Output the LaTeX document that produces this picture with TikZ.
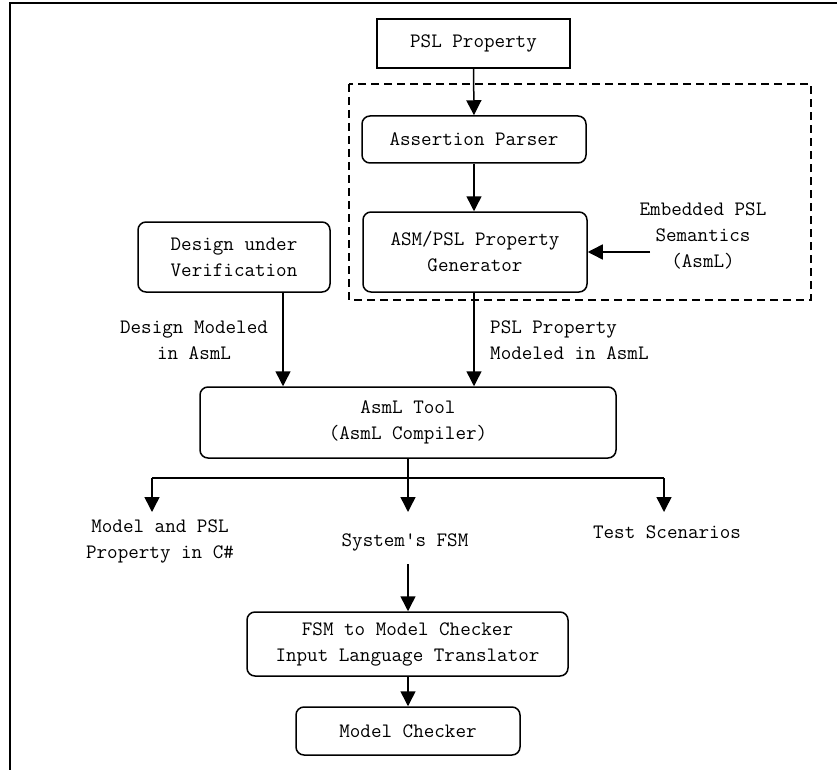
\documentclass[tikz,border=0pt]{standalone}
\usetikzlibrary{arrows.meta}
\begin{document}
\begin{tikzpicture}[x=1pt,y=-1pt,
  every node/.style={font=\ttfamily\fontsize{20.5}{26}\selectfont, align=center, inner sep=0pt},
  rbox/.style={draw, line width=1.5pt, rounded corners=8pt},
  sbox/.style={draw, line width=1.5pt},
  conn/.style={line width=1.5pt, -{Triangle[length=15pt,width=15pt]}},
  plain/.style={line width=1.5pt}]
\useasboundingbox (0,0) rectangle (837,770);
% frame (top and left lines)
\draw[line width=2pt] (10,770) -- (10,3.5) -- (837,3.5);
% dashed region
\draw[line width=1.5pt, dash pattern=on 8pt off 5pt] (349,84) rectangle (811,300);
% boxes
\node[sbox, minimum width=193pt, minimum height=49pt] (psl) at (473.5,43.5) {PSL Property};
\node[rbox, minimum width=224pt, minimum height=47pt] (parser) at (474,139.5) {Assertion Parser};
\node[rbox, minimum width=224pt, minimum height=80pt] (gen) at (475,252) {ASM/PSL Property\\Generator};
\node (emb) at (703,236) {Embedded PSL\\Semantics\\(AsmL)};
\coordinate (embs) at (650,252);
\node[rbox, minimum width=192pt, minimum height=70pt] (dut) at (234,257) {Design under\\Verification};
\node[rbox, minimum width=416pt, minimum height=71pt] (tool) at (408,422.5) {AsmL Tool\\(AsmL Compiler)};
\node (lab1) at (194,340) {Design Modeled\\in AsmL};
\node[anchor=west, align=left] (lab2) at (490,340) {PSL Property\\Modeled in AsmL};
\node (out1) at (160,541.5) {Model and PSL\\Property in C\#};
\node (out2) at (405,542) {System's FSM};
\node (out3) at (667,532) {Test Scenarios};
\node[rbox, minimum width=321pt, minimum height=64pt] (fsm) at (407.5,644) {FSM to Model Checker\\Input Language Translator};
\node[rbox, minimum width=224pt, minimum height=48pt] (mc) at (408,731) {Model Checker};
% connectors
\draw[conn] (psl.south) -- (parser.north);
\draw[conn] (parser.south) -- (gen.north -| parser.south);
\draw[conn] (embs) -- (gen.east |- embs);
\coordinate (dutb) at (283,292);
\draw[conn] (dutb) -- (dutb |- tool.north);
\draw[conn] (gen.south -| parser.south) -- (parser.south |- tool.north);
\coordinate (split) at (408,478);
\coordinate (s1) at (152,478);
\coordinate (s3) at (664,478);
\draw[plain] (tool.south) -- (split);
\draw[plain] (s1) -- (s3);
\coordinate (e1) at (152,512);
\coordinate (e2) at (408,512);
\coordinate (e3) at (664,512);
\draw[conn] (s1) -- (e1);
\draw[conn] (split) -- (e2);
\draw[conn] (s3) -- (e3);
\coordinate (f2) at (408,564);
\draw[conn] (f2) -- (fsm.north -| f2);
\draw[conn] (fsm.south -| f2) -- (mc.north -| f2);
\end{tikzpicture}
\end{document}
